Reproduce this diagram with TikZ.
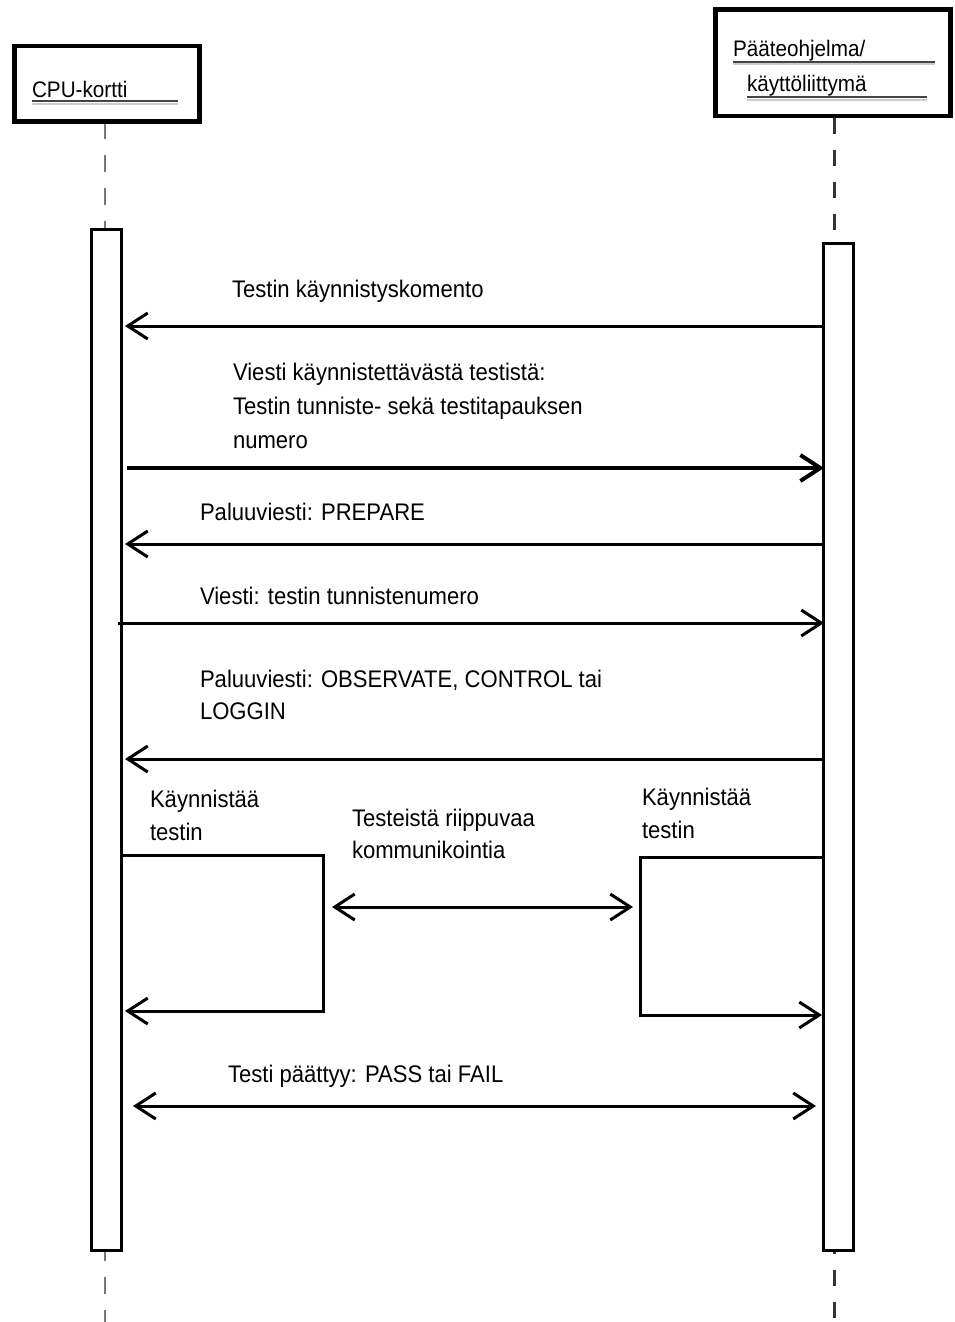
\documentclass[tikz,border=0pt]{standalone}
\usepackage{fontspec}
\setmainfont{Liberation Sans}[FakeStretch=0.92]
\usetikzlibrary{arrows.meta}
\definecolor{lifegray}{HTML}{777777}
\definecolor{lifedark}{HTML}{333333}
\definecolor{ruledark}{HTML}{444444}
\definecolor{rulelight}{HTML}{CCCCCC}
\tikzset{
  msgfont/.style={font=\fontsize{24}{28}\selectfont},
  headfont/.style={font=\fontsize{22.5}{26}\selectfont},
  lbl/.style={msgfont, anchor=base west, inner sep=0pt, outer sep=0pt},
  headlbl/.style={headfont, anchor=base west, inner sep=0pt, outer sep=0pt},
  headbox/.style={draw, line width=4.5pt, fill=white},
  actbar/.style={draw, line width=3pt, fill=white},
  msg/.style={line width=3pt, -{Straight Barb[length=20pt,width=26pt]}},
  dmsg/.style={line width=3pt, {Straight Barb[length=20pt,width=26pt]}-{Straight Barb[length=20pt,width=26pt]}},
  selfcall/.style={line width=3pt, -{Straight Barb[length=20pt,width=26pt]}},
  lifeL/.style={draw=lifegray, line width=2pt, dash pattern=on 17pt off 16pt},
  lifeR/.style={draw=lifedark, line width=3pt, dash pattern=on 16pt off 16pt},
}
\begin{document}
\begin{tikzpicture}[x=1pt, y=-1pt]
\useasboundingbox (0,0) rectangle (954,1322);

% lifeline heads
\draw[headbox] (14.5,46) rectangle (199.5,121.5);
\node[headlbl] (cpu) at (32,97) {CPU-kortti};
\draw[ruledark, line width=2pt] (32,101) -- (178,101);
\draw[rulelight, line width=2pt] (32,103.5) -- (178,103.5);

\draw[headbox] (715.5,9.5) rectangle (950.5,116);
\node[headlbl] (ui1) at (733,57) {Pääteohjelma/};
\draw[ruledark, line width=2pt] (733,62) -- (935,62);
\draw[rulelight, line width=2pt] (733,64.5) -- (935,64.5);
\node[headlbl] (ui2) at (747,92) {käyttöliittymä};
\draw[ruledark, line width=2pt] (747,97) -- (927,97);
\draw[rulelight, line width=2pt] (747,99.5) -- (927,99.5);

% lifelines
\coordinate (lTop) at (105,123.5);
\coordinate (lBot) at (105,1322);
\coordinate (rTop) at (834,118);
\coordinate (rBot) at (834,1322);
\draw[lifeL, dash phase=-31pt] (lTop) -- (lBot);
\draw[lifeR] (rTop) -- (rBot);

% activation bars
\node[actbar, minimum width=30.5pt, minimum height=1021pt, inner sep=0pt, anchor=north west]
  (barL) at (89.5,228) {};
\node[actbar, minimum width=29.5pt, minimum height=1007pt, inner sep=0pt, anchor=north west]
  (barR) at (822,242) {};

% message 1
\node[lbl] (t1) at (232,297) {Testin käynnistyskomento};
\coordinate (m1a) at (822,326);
\coordinate (m1b) at (125,326);
\draw[msg] (m1a) -- (m1b);

% message 2
\node[lbl] (t2a) at (233,380) {Viesti käynnistettävästä testistä:};
\node[lbl] (t2b) at (233,414) {Testin tunniste- sekä testitapauksen};
\node[lbl] (t2c) at (233,448) {numero};
\coordinate (m2a) at (127,468);
\coordinate (m2b) at (824,468);
\draw[msg, line width=4pt] (m2a) -- (m2b);

% message 3
\node[lbl] (t3) at (200,520) {Paluuviesti: PREPARE};
\coordinate (m3a) at (822,544);
\coordinate (m3b) at (125,544);
\draw[msg] (m3a) -- (m3b);

% message 4
\node[lbl] (t4) at (200,604) {Viesti: testin tunnistenumero};
\coordinate (m4a) at (118,623);
\coordinate (m4b) at (824,623);
\draw[msg] (m4a) -- (m4b);

% message 5
\node[lbl] (t5a) at (200,687) {Paluuviesti: OBSERVATE, CONTROL tai};
\node[lbl] (t5b) at (200,719) {LOGGIN};
\coordinate (m5a) at (822,759);
\coordinate (m5b) at (125,759);
\draw[msg] (m5a) -- (m5b);

% test run on the CPU card
\node[lbl] (t6a) at (150,807) {Käynnistää};
\node[lbl] (t6b) at (150,840) {testin};
\coordinate (s1a) at (120,855);
\coordinate (s1b) at (323,855);
\coordinate (s1c) at (323,1011);
\coordinate (s1d) at (125,1011);
\draw[selfcall] (s1a) -- (s1b) -- (s1c) -- (s1d);

% test run on the terminal program
\node[lbl] (t7a) at (642,805) {Käynnistää};
\node[lbl] (t7b) at (642,838) {testin};
\coordinate (s2a) at (822,857);
\coordinate (s2b) at (640,857);
\coordinate (s2c) at (640,1015);
\coordinate (s2d) at (822,1015);
\draw[selfcall] (s2a) -- (s2b) -- (s2c) -- (s2d);

% test dependent communication
\node[lbl] (t8a) at (352,826) {Testeistä riippuvaa};
\node[lbl] (t8b) at (352,858) {kommunikointia};
\coordinate (c1) at (332,907);
\coordinate (c2) at (633,907);
\draw[dmsg] (c1) -- (c2);

% end of test
\node[lbl] (t9) at (228,1082) {Testi päättyy: PASS tai FAIL};
\coordinate (e1) at (133,1106);
\coordinate (e2) at (816,1106);
\draw[dmsg] (e1) -- (e2);
\end{tikzpicture}
\end{document}
